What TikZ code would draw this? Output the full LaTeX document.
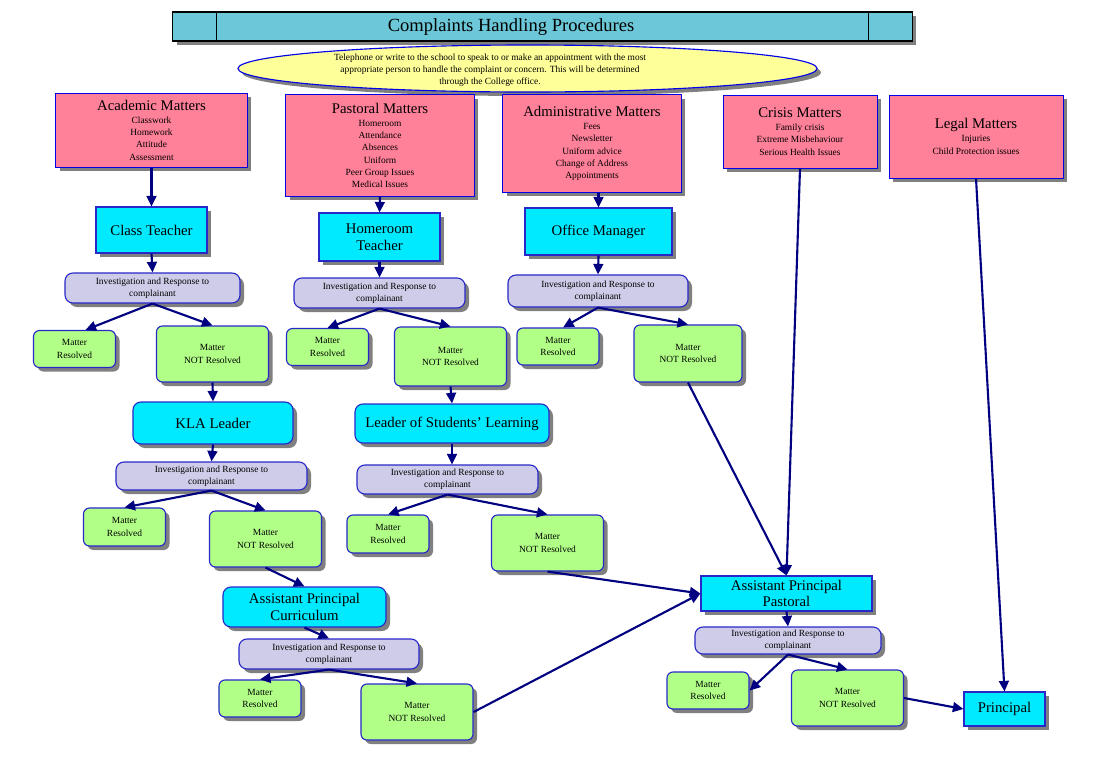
\documentclass[tikz,border=0pt]{standalone}
\usepackage{fontspec}
\setmainfont{Liberation Serif}
\usetikzlibrary{shapes.geometric,shadows,arrows.meta}
\definecolor{titlecyan}{RGB}{108,200,216}
\definecolor{mattpink}{RGB}{255,128,153}
\definecolor{staffcyan}{RGB}{0,234,255}
\definecolor{invlilac}{RGB}{206,204,232}
\definecolor{resgreen}{RGB}{178,255,136}
\definecolor{infoyellow}{RGB}{255,255,153}
\definecolor{edgeblue}{RGB}{0,0,230}
\definecolor{softblue}{RGB}{40,40,200}
\definecolor{linenavy}{RGB}{0,0,128}
\newcommand\titlesize{\fontsize{13.2}{15}\selectfont}
\newcommand\headsize{\fontsize{10.5}{11.9}\selectfont}
\newcommand\itemsize{\fontsize{6.7}{8.75}\selectfont}

\begin{document}
\begin{tikzpicture}[x=0.025cm,y=-0.025cm,
    boxshadow/.style={drop shadow={shadow xshift=0.1cm,shadow yshift=-0.1cm,fill=black!50,opacity=1}},
    titlebar/.style={draw=black,fill=titlecyan,line width=0.8pt,boxshadow,minimum width=18.475cm,minimum height=0.725cm,inner sep=0pt},
    infobox/.style={ellipse,draw=edgeblue,fill=infoyellow,line width=0.8pt,boxshadow,minimum width=14.475cm,minimum height=1.175cm,inner sep=0pt},
    mattersbox/.style={draw=edgeblue,fill=mattpink,line width=0.7pt,boxshadow,align=center,inner sep=0pt,font=\itemsize},
    staffbox/.style={draw=softblue,fill=staffcyan,line width=0.8pt,boxshadow,align=center,inner sep=0pt,font=\headsize},
    staffround/.style={staffbox,rounded corners=0.2cm},
    investbox/.style={draw=softblue,fill=invlilac,line width=0.8pt,rounded corners=0.2cm,boxshadow,align=center,inner sep=0pt,font=\itemsize},
    resolvedbox/.style={draw=softblue,fill=resgreen,line width=0.8pt,rounded corners=0.15cm,boxshadow,align=center,inner sep=0pt,font=\itemsize,minimum width=2.05cm,minimum height=0.925cm},
    openbox/.style={resolvedbox,minimum width=2.8cm,minimum height=1.4cm},
    flowarrow/.style={draw=linenavy,line width=1.5pt,-{Triangle[length=7.5pt,width=7pt]}}]
\useasboundingbox (0,0) rectangle (1095,764);

% heading
\node[titlebar] (title) at (542.5,26.5) {};
\draw[line width=0.8pt] ([xshift=1.1cm]title.north west) -- ([xshift=1.1cm]title.south west);
\draw[line width=0.8pt] ([xshift=-1.1cm]title.north east) -- ([xshift=-1.1cm]title.south east);
\node[font=\titlesize] (titletext) at (511,27) {Complaints Handling Procedures};
\node[infobox] (info) at (527.5,68.5) {};
\node[font=\fontsize{6.7}{8.4}\selectfont,align=center] (infotext) at (490,70) {Telephone or write to the school to speak to or make an appointment with the most\\appropriate person to handle the complaint or concern. This will be determined\\through the College office.};

% kinds of matters
\node[mattersbox,minimum width=4.775cm,minimum height=1.85cm] (academic) at (151.5,130) {{\headsize Academic Matters}\\[0.5pt]Classwork\\Homework\\Attitude\\Assessment};
\node[mattersbox,minimum width=4.7cm,minimum height=2.525cm] (pastoral) at (380,145.5) {{\headsize Pastoral Matters}\\[0.5pt]Homeroom\\Attendance\\Absences\\Uniform\\Peer Group Issues\\Medical Issues};
\node[mattersbox,minimum width=4.45cm,minimum height=2.425cm] (admin) at (592,143.5) {{\headsize Administrative Matters}\\[0.5pt]Fees\\Newsletter\\Uniform advice\\Change of Address\\Appointments};
\node[mattersbox,minimum width=3.85cm,minimum height=1.825cm] (crisis) at (800,131.5) {{\headsize Crisis Matters}\\[0.5pt]Family crisis\\Extreme Misbehaviour\\Serious Health Issues};
\node[mattersbox,minimum width=4.35cm,minimum height=2.075cm] (legal) at (976,136.5) {{\headsize Legal Matters}\\[0.5pt]Injuries\\Child Protection issues};

% staff
\node[staffbox,minimum width=2.775cm,minimum height=1.15cm] (classteacher) at (151.5,230) {Class Teacher};
\node[staffbox,minimum width=3.025cm,minimum height=1.2cm] (homeroom) at (379.5,237) {Homeroom\\Teacher};
\node[staffbox,minimum width=3.675cm,minimum height=1.175cm] (office) at (598.5,231.5) {Office Manager};
\node[staffround,minimum width=4cm,minimum height=1.05cm] (kla) at (213,423) {KLA Leader};
\node[staffround,minimum width=4.85cm,minimum height=0.975cm] (lsl) at (452,423.5) {Leader of Students’ Learning};
\node[staffround,minimum width=4.075cm,minimum height=1cm] (apc) at (304.5,607) {Assistant Principal\\Curriculum};
\node[staffbox,minimum width=4.275cm,minimum height=0.875cm] (app) at (786.5,593.5) {Assistant Principal\\Pastoral};
\node[staffbox,minimum width=2.025cm,minimum height=0.85cm] (principal) at (1004.5,709) {Principal};

% investigation
\node[investbox,minimum width=4.375cm,minimum height=0.75cm] (ir1) at (152.5,288) {Investigation and Response to\\complainant};
\node[investbox,minimum width=4.275cm,minimum height=0.75cm] (ir2) at (379.5,293) {Investigation and Response to\\complainant};
\node[investbox,minimum width=4.5cm,minimum height=0.8cm] (ir3) at (598,291) {Investigation and Response to\\complainant};
\node[investbox,minimum width=4.775cm,minimum height=0.7cm] (ir4) at (211.5,476) {Investigation and Response to\\complainant};
\node[investbox,minimum width=4.525cm,minimum height=0.725cm] (ir5) at (447.5,479.5) {Investigation and Response to\\complainant};
\node[investbox,minimum width=4.5cm,minimum height=0.75cm] (ir6) at (329,654) {Investigation and Response to\\complainant};
\node[investbox,minimum width=4.65cm,minimum height=0.675cm] (ir7) at (788,640.5) {Investigation and Response to\\complainant};

% outcomes
\node[resolvedbox] (r1) at (74.5,349) {Matter\\Resolved};
\node[openbox] (n1) at (212.5,354) {Matter\\NOT Resolved};
\node[resolvedbox] (r2) at (327.5,347) {Matter\\Resolved};
\node[openbox,minimum height=1.475cm] (n2) at (450.5,356.5) {Matter\\NOT Resolved};
\node[resolvedbox] (r3) at (558,346.5) {Matter\\Resolved};
\node[openbox,minimum width=2.7cm,minimum height=1.425cm] (n3) at (688,353.5) {Matter\\NOT Resolved};
\node[resolvedbox,minimum height=0.95cm] (r4) at (124.5,527) {Matter\\Resolved};
\node[openbox] (n4) at (265.5,539) {Matter\\NOT Resolved};
\node[resolvedbox,minimum height=0.95cm] (r5) at (388,534) {Matter\\Resolved};
\node[openbox] (n5) at (547.5,543) {Matter\\NOT Resolved};
\node[resolvedbox] (r6) at (260,698.5) {Matter\\Resolved};
\node[openbox] (n6) at (417,712) {Matter\\NOT Resolved};
\node[resolvedbox] (r7) at (708,690.5) {Matter\\Resolved};
\node[openbox] (n7) at (847.5,698) {Matter\\NOT Resolved};

% arrows
\draw[flowarrow] (academic.south) -- (classteacher.north);
\draw[flowarrow] (pastoral.south) -- (homeroom.north);
\draw[flowarrow] (office.north |- admin.south) -- (office.north);
\draw[flowarrow] (classteacher.south) -- (ir1.north);
\draw[flowarrow] (homeroom.south) -- (ir2.north);
\draw[flowarrow] (office.south) -- (ir3.north);
\draw[flowarrow] (ir1.south) -- (r1.60);
\draw[flowarrow] (ir1.south) -- (n1.north);
\draw[flowarrow] (ir2.south) -- (r2.north);
\draw[flowarrow] (ir2.south) -- (n2.north);
\draw[flowarrow] (ir3.south) -- (r3.75);
\draw[flowarrow] (ir3.south) -- (n3.north);
\draw[flowarrow] (n1.south) -- (kla.north);
\draw[flowarrow] (n2.south) -- (lsl.north);
\draw[flowarrow] (kla.south) -- (ir4.north);
\draw[flowarrow] (lsl.south) -- (lsl.south |- ir5.north);
\draw[flowarrow] (ir4.south) -- (r4.north);
\draw[flowarrow] (ir4.south) -- (n4.north);
\draw[flowarrow] (ir5.south) -- (r5.north);
\draw[flowarrow] (ir5.south) -- (n5.north);
\draw[flowarrow] (n4.south) -- (apc.north);
\draw[flowarrow] (apc.south) -- (ir6.north);
\draw[flowarrow] (ir6.south) -- (r6.north);
\draw[flowarrow] (ir6.south) -- (n6.north);
\draw[flowarrow] (n3.south) -- (app.north);
\draw[flowarrow] (crisis.south) -- (app.north);
\draw[flowarrow] (n5.south) -- (app.west);
\draw[flowarrow] (n6.east) -- (app.west);
\draw[flowarrow] (app.south) -- (ir7.north);
\draw[flowarrow] (ir7.south) -- (r7.east);
\draw[flowarrow] (ir7.south) -- (n7.north);
\draw[flowarrow] (n7.east) -- (principal.west);
\draw[flowarrow] (legal.south) -- (principal.north);
\end{tikzpicture}
\end{document}
